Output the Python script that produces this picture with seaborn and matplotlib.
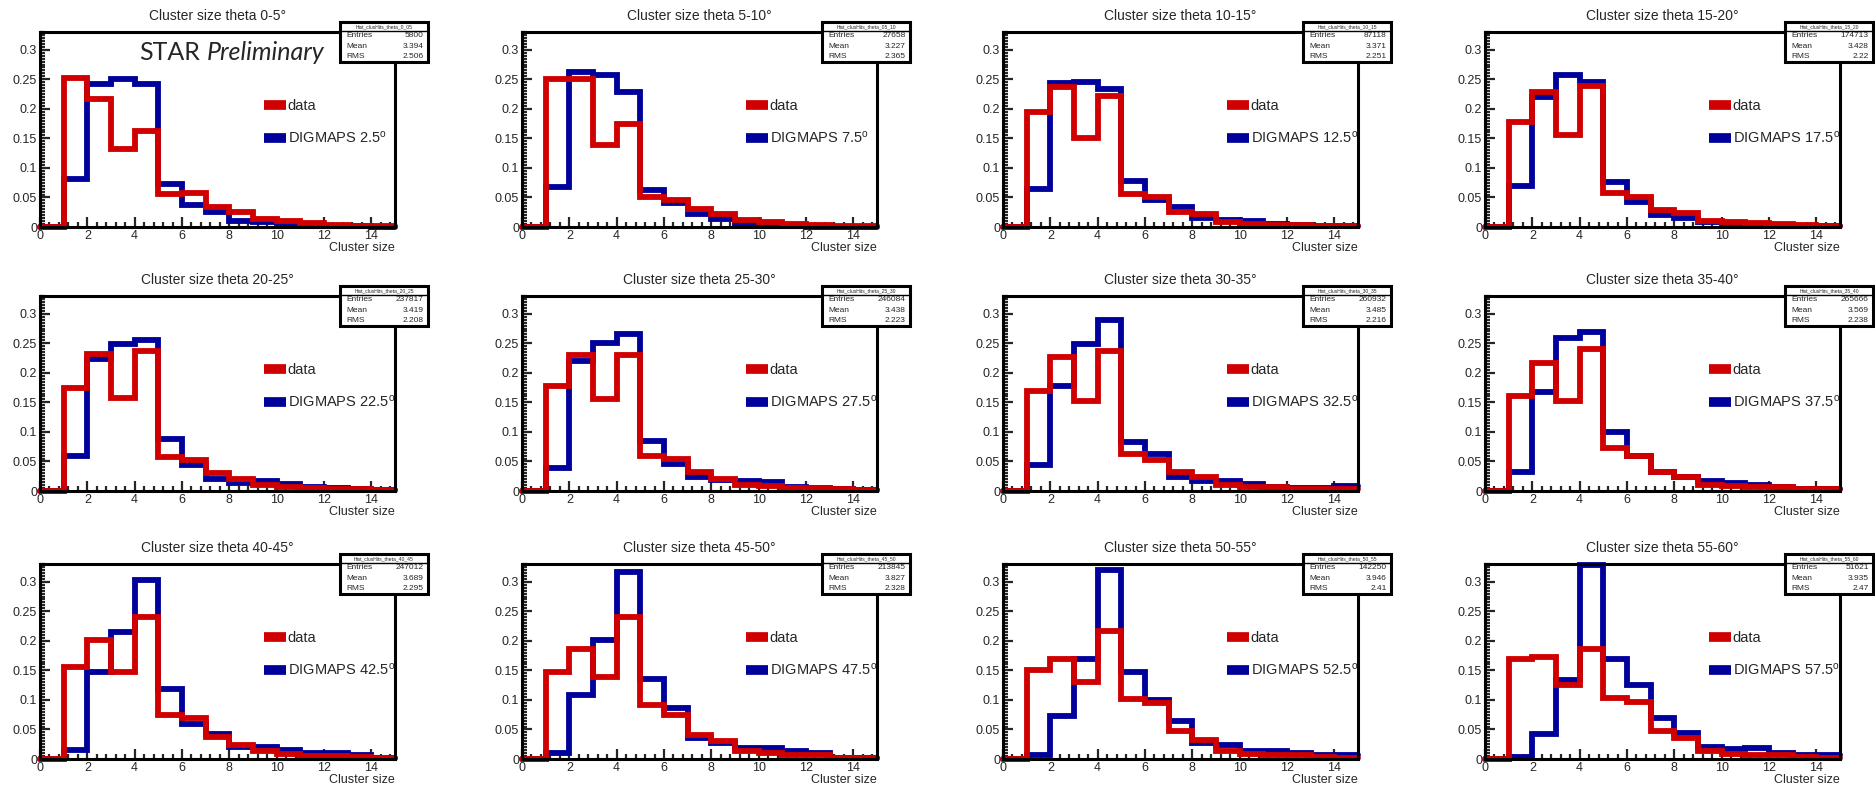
import numpy as np
import pandas as pd
import matplotlib
matplotlib.use("Agg")
import matplotlib.pyplot as plt
import seaborn as sns
from matplotlib.lines import Line2D
from matplotlib.patches import Rectangle
from matplotlib.ticker import MultipleLocator, FuncFormatter

# ---------------- data ----------------
bin_edges = list(range(16))          # cluster size bins 0..15
theta_ranges = ["0-5", "5-10", "10-15", "15-20", "20-25", "25-30",
                "30-35", "35-40", "40-45", "45-50", "50-55", "55-60"]
digmaps_angles = ["2.5", "7.5", "12.5", "17.5", "22.5", "27.5",
                  "32.5", "37.5", "42.5", "47.5", "52.5", "57.5"]
hist_names = ["Hist_clusHits_theta_0_05", "Hist_clusHits_theta_05_10",
              "Hist_clusHits_theta_10_15", "Hist_clusHits_theta_15_20",
              "Hist_clusHits_theta_20_25", "Hist_clusHits_theta_25_30",
              "Hist_clusHits_theta_30_35", "Hist_clusHits_theta_35_40",
              "Hist_clusHits_theta_40_45", "Hist_clusHits_theta_45_50",
              "Hist_clusHits_theta_50_55", "Hist_clusHits_theta_55_60"]
stat_entries = ["5800", "27658", "87118", "174713", "237817", "246084",
                "260932", "265666", "247012", "213845", "142250", "51621"]
stat_mean = ["3.394", "3.227", "3.371", "3.428", "3.419", "3.438",
             "3.485", "3.569", "3.689", "3.827", "3.946", "3.935"]
stat_rms = ["2.506", "2.365", "2.251", "2.22", "2.208", "2.223",
            "2.216", "2.238", "2.295", "2.328", "2.41", "2.47"]

data_00_05 = [0, 0.253, 0.217, 0.132, 0.163, 0.056, 0.058, 0.034, 0.025, 0.014, 0.010, 0.007, 0.004, 0.002, 0.002]
sim_00_05 = [0, 0.082, 0.242, 0.250, 0.242, 0.073, 0.038, 0.026, 0.011, 0.008, 0.004, 0.002, 0.001, 0.001, 0.0]
data_05_10 = [0, 0.250, 0.250, 0.138, 0.175, 0.050, 0.045, 0.030, 0.022, 0.012, 0.009, 0.005, 0.004, 0.002, 0.001]
sim_05_10 = [0, 0.068, 0.262, 0.257, 0.228, 0.063, 0.040, 0.022, 0.014, 0.005, 0.002, 0.001, 0.0, 0.0, 0.0]
data_10_15 = [0, 0.195, 0.237, 0.150, 0.222, 0.055, 0.050, 0.025, 0.022, 0.008, 0.005, 0.004, 0.003, 0.002, 0.001]
sim_10_15 = [0, 0.064, 0.243, 0.245, 0.233, 0.078, 0.045, 0.033, 0.015, 0.012, 0.010, 0.005, 0.003, 0.002, 0.001]
data_15_20 = [0, 0.177, 0.229, 0.156, 0.239, 0.057, 0.051, 0.028, 0.024, 0.011, 0.008, 0.006, 0.005, 0.003, 0.002]
sim_15_20 = [0, 0.070, 0.220, 0.257, 0.246, 0.076, 0.042, 0.020, 0.015, 0.008, 0.006, 0.004, 0.003, 0.002, 0.001]
data_20_25 = [0, 0.175, 0.232, 0.158, 0.237, 0.058, 0.052, 0.030, 0.021, 0.010, 0.007, 0.005, 0.004, 0.003, 0.002]
sim_20_25 = [0, 0.060, 0.223, 0.248, 0.255, 0.088, 0.044, 0.020, 0.013, 0.017, 0.012, 0.007, 0.005, 0.003, 0.002]
data_25_30 = [0, 0.178, 0.231, 0.156, 0.231, 0.060, 0.055, 0.032, 0.021, 0.010, 0.008, 0.005, 0.005, 0.003, 0.002]
sim_25_30 = [0, 0.039, 0.220, 0.251, 0.265, 0.084, 0.045, 0.024, 0.018, 0.017, 0.015, 0.007, 0.005, 0.003, 0.002]
data_30_35 = [0, 0.170, 0.226, 0.153, 0.237, 0.062, 0.053, 0.032, 0.024, 0.011, 0.007, 0.006, 0.004, 0.003, 0.003]
sim_30_35 = [0, 0.044, 0.178, 0.248, 0.290, 0.083, 0.062, 0.024, 0.017, 0.017, 0.012, 0.006, 0.005, 0.005, 0.008]
data_35_40 = [0, 0.161, 0.217, 0.153, 0.240, 0.072, 0.060, 0.032, 0.024, 0.011, 0.008, 0.006, 0.006, 0.003, 0.003]
sim_35_40 = [0, 0.032, 0.168, 0.259, 0.269, 0.100, 0.060, 0.032, 0.024, 0.017, 0.013, 0.010, 0.006, 0.003, 0.003]
data_40_45 = [0, 0.156, 0.201, 0.147, 0.240, 0.075, 0.069, 0.038, 0.024, 0.013, 0.008, 0.005, 0.005, 0.003, 0.002]
sim_40_45 = [0, 0.016, 0.147, 0.215, 0.303, 0.119, 0.059, 0.042, 0.021, 0.020, 0.016, 0.010, 0.010, 0.006, 0.002]
data_45_50 = [0, 0.147, 0.186, 0.138, 0.240, 0.091, 0.075, 0.041, 0.030, 0.014, 0.010, 0.007, 0.006, 0.002, 0.001]
sim_45_50 = [0, 0.010, 0.108, 0.201, 0.317, 0.135, 0.086, 0.036, 0.027, 0.018, 0.018, 0.013, 0.010, 0.002, 0.001]
data_50_55 = [0, 0.151, 0.170, 0.131, 0.217, 0.101, 0.094, 0.047, 0.033, 0.014, 0.008, 0.007, 0.006, 0.003, 0.002]
sim_50_55 = [0, 0.007, 0.072, 0.170, 0.320, 0.147, 0.100, 0.064, 0.027, 0.024, 0.014, 0.014, 0.011, 0.007, 0.006]
data_55_60 = [0, 0.170, 0.173, 0.125, 0.186, 0.103, 0.097, 0.047, 0.035, 0.014, 0.008, 0.007, 0.006, 0.003, 0.002]
sim_55_60 = [0, 0.003, 0.042, 0.133, 0.328, 0.170, 0.126, 0.070, 0.044, 0.021, 0.017, 0.018, 0.010, 0.007, 0.007]

data_series = [data_00_05, data_05_10, data_10_15, data_15_20, data_20_25, data_25_30,
               data_30_35, data_35_40, data_40_45, data_45_50, data_50_55, data_55_60]
sim_series = [sim_00_05, sim_05_10, sim_10_15, sim_15_20, sim_20_25, sim_25_30,
              sim_30_35, sim_35_40, sim_40_45, sim_45_50, sim_50_55, sim_55_60]

# ---------------- style ----------------
sns.set_style("ticks")
plt.rcParams["font.family"] = ["Liberation Sans", "DejaVu Sans"]
plt.rcParams["mathtext.default"] = "regular"

RED = "#d00000"
BLUE = "#00009a"

W, H = 1875, 790
fig = plt.figure(figsize=(W / 100, H / 100), dpi=100)
fig.patch.set_facecolor("white")

col_left = [40, 522, 1003, 1485]
row_top = [32, 296, 564]
ax_w, ax_h = 355, 195

centers = np.array(bin_edges[:-1]) + 0.5

for i in range(12):
    r, c = divmod(i, 4)
    ax = fig.add_axes([col_left[c] / W, 1 - (row_top[r] + ax_h) / H, ax_w / W, ax_h / H])
    df = pd.DataFrame({"size": np.concatenate([centers, centers]),
                       "w": np.concatenate([sim_series[i], data_series[i]]),
                       "src": ["sim"] * 15 + ["data"] * 15})
    sns.histplot(data=df[df.src == "sim"], x="size", weights="w", bins=bin_edges,
                 element="step", fill=False, color=BLUE, linewidth=4.2, ax=ax)
    sns.histplot(data=df[df.src == "data"], x="size", weights="w", bins=bin_edges,
                 element="step", fill=False, color=RED, linewidth=4.2, ax=ax)
    for ln in ax.lines:
        ln.set_clip_on(False)
        ln.set_solid_joinstyle("miter")
    ax.set_xlim(0, 15)
    ax.set_ylim(0, 0.33)
    ax.set_ylabel("")
    ax.set_xlabel("Cluster size", loc="right", fontsize=9, labelpad=0)
    ax.set_title(f"Cluster size theta {theta_ranges[i]}\u00b0", fontsize=10, pad=9)
    ax.xaxis.set_major_locator(MultipleLocator(2))
    ax.xaxis.set_minor_locator(MultipleLocator(0.4))
    ax.yaxis.set_major_locator(MultipleLocator(0.05))
    ax.yaxis.set_minor_locator(MultipleLocator(0.005))
    ax.yaxis.set_major_formatter(FuncFormatter(lambda v, p: f"{v:g}"))
    ax.tick_params(which="both", direction="in", width=1.6, labelsize=9,
                   top=False, right=False, pad=2)
    ax.tick_params(which="major", length=7)
    ax.tick_params(which="minor", length=3.5)
    for sp in ax.spines.values():
        sp.set_visible(True)
        sp.set_linewidth(2.2)
        sp.set_color("black")

    # legend
    handles = [Line2D([], [], color=RED, lw=7, solid_capstyle="butt"),
               Line2D([], [], color=BLUE, lw=7, solid_capstyle="butt")]
    ax.legend(handles, ["data", f"DIGMAPS {digmaps_angles[i]}$^{{o}}$"],
              loc="center left", bbox_to_anchor=(0.63, 0.535), frameon=False,
              fontsize=10.5, handlelength=1.55, handletextpad=0.1,
              labelspacing=1.15, borderpad=0, borderaxespad=0)

    # stats box
    x0, x1, y0, y1, ysep = 0.845, 1.093, 0.845, 1.05, 1.003
    ax.add_patch(Rectangle((x0, y0), x1 - x0, y1 - y0, transform=ax.transAxes,
                           facecolor="white", edgecolor="black", lw=2.2,
                           clip_on=False, zorder=10))
    ax.add_line(Line2D([x0, x1], [ysep, ysep], transform=ax.transAxes, color="black",
                       lw=1.0, clip_on=False, zorder=11))
    ax.text((x0 + x1) / 2, (ysep + y1) / 2, hist_names[i], transform=ax.transAxes,
            fontsize=3.6, ha="center", va="center", zorder=12, clip_on=False)
    for label, val, yy in zip(["Entries", "Mean", "RMS"],
                              [stat_entries[i], stat_mean[i], stat_rms[i]],
                              [0.982, 0.927, 0.874]):
        ax.text(x0 + 0.018, yy, label, transform=ax.transAxes, fontsize=6,
                ha="left", va="center", zorder=12, clip_on=False)
        ax.text(x1 - 0.012, yy, val, transform=ax.transAxes, fontsize=6,
                ha="right", va="center", zorder=12, clip_on=False)

    if i == 0:
        ax.text(0.28, 0.895, "STAR", transform=ax.transAxes, fontsize=18,
                family=["Lato", "DejaVu Sans"], ha="left", va="center", zorder=12)
        ax.text(0.47, 0.895, "Preliminary", transform=ax.transAxes, fontsize=18,
                family=["Lato", "DejaVu Sans"], style="italic", ha="left",
                va="center", zorder=12)

fig.savefig("out.png", dpi=100, facecolor="white")
